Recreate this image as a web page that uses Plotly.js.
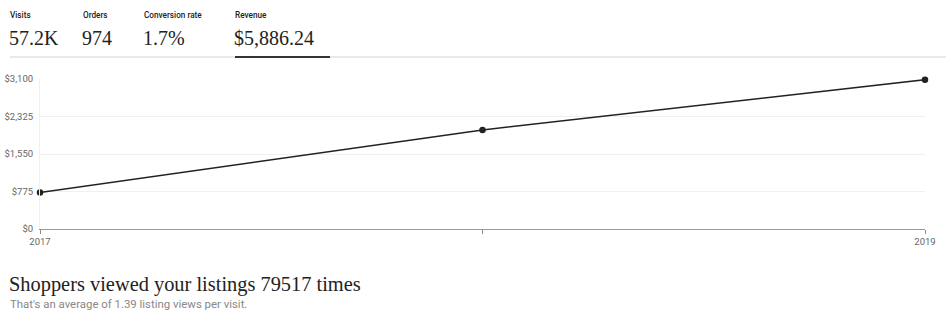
<!DOCTYPE html>
<html><head><meta charset="utf-8">
<script src="https://cdn.plot.ly/plotly-3.0.1.min.js"></script>
<style>html,body{margin:0;padding:0;background:#fff}#chart{width:946px;height:317px}</style>
</head><body><div id="chart"></div>
<script>
const years = [2017, 2018, 2019];
const revenue = [752, 2048, 3086.24];
const tickLabels = ['2017', '', '2019'];
const yTicks = [0, 775, 1550, 2325, 3100];
const yTickText = ['$0', '$775', '$1,550', '$2,325', '$3,100'];
const statLabels = ['Visits', 'Orders', 'Conversion rate', 'Revenue'];
const statValues = ['57.2K', '974', '1.7%', '$5,886.24'];
const headline = 'Shoppers viewed your listings 79517 times';
const subline = "That's an average of 1.39 listing views per visit.";

const W = 946, H = 317, L = 40, R = 21, T = 79, B = 88;
const pw = W - L - R, ph = H - T - B;
const px = x => (x - L) / pw;
const py = y => (H - B - y) / ph;

const statX = [8, 81, 142, 233];
const ann = [];
statLabels.forEach((s, i) => {
  ann.push({text: s, x: px(statX[i]), y: py(15), xref: 'paper', yref: 'paper', xanchor: 'left', yanchor: 'middle', showarrow: false,
    font: {family: 'Roboto, sans-serif', size: 8.2, color: '#222', weight: 500}});
  ann.push({text: statValues[i], x: px(statX[i] - 1), y: py(38), xref: 'paper', yref: 'paper', xanchor: 'left', yanchor: 'middle', showarrow: false,
    font: {family: 'Liberation Serif, serif', size: 20, color: '#222'}});
});
ann.push({text: headline, x: px(7), y: py(284), xref: 'paper', yref: 'paper', xanchor: 'left', yanchor: 'middle', showarrow: false,
  font: {family: 'Liberation Serif, serif', size: 20.4, color: '#222'}});
ann.push({text: subline, x: px(8), y: py(304), xref: 'paper', yref: 'paper', xanchor: 'left', yanchor: 'middle', showarrow: false,
  font: {family: 'Roboto, sans-serif', size: 11.4, color: '#888'}});

const shapes = [
  {type: 'line', xref: 'paper', yref: 'paper', x0: px(10), x1: px(946), y0: py(57), y1: py(57), line: {color: '#e2e2e2', width: 1.5}},
  {type: 'line', xref: 'paper', yref: 'paper', x0: px(235), x1: px(330), y0: py(57), y1: py(57), line: {color: '#333', width: 2}}
];

Plotly.newPlot('chart', [{
  x: years, y: revenue, type: 'scatter', mode: 'lines+markers',
  line: {color: '#222', width: 1.5}, marker: {color: '#222', size: 6.5}, cliponaxis: false, hoverinfo: 'none'
}], {
  width: W, height: H, margin: {l: L, r: R, t: T, b: B},
  paper_bgcolor: '#fff', plot_bgcolor: '#fff', showlegend: false,
  xaxis: {range: [2017, 2019], tickvals: years, ticktext: tickLabels, ticks: 'outside', ticklen: 4, tickcolor: '#888',
    showgrid: false, zeroline: false, showline: true, linecolor: '#999', linewidth: 1,
    tickfont: {family: 'Roboto, sans-serif', size: 9.5, color: '#666'}},
  yaxis: {range: [0, 3100], tickvals: yTicks, ticktext: yTickText, showgrid: true, gridcolor: '#f0f0f0', zeroline: false,
    showline: true, linecolor: '#f0f0f0', ticks: '', ticklabelstandoff: 4,
    tickfont: {family: 'Roboto, sans-serif', size: 9.5, color: '#666'}},
  annotations: ann, shapes: shapes
}, {displayModeBar: false, staticPlot: true});
</script></body></html>
